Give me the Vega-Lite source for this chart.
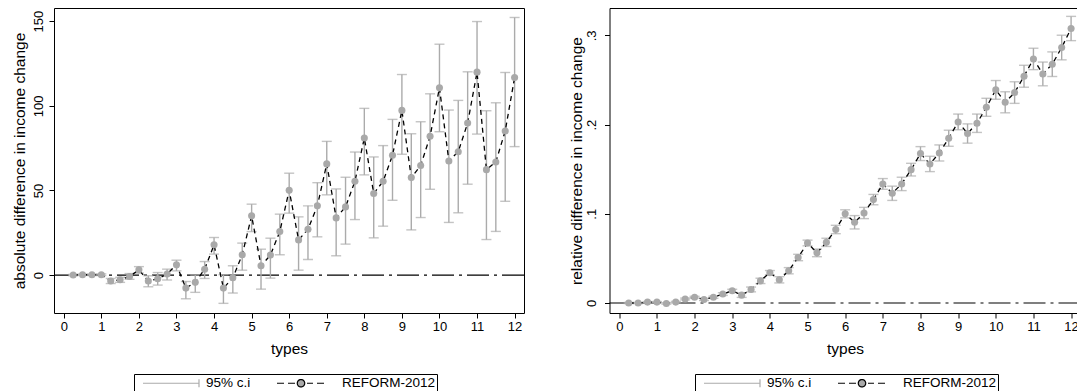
{
  "$schema": "https://vega.github.io/schema/vega-lite/v6.json",
  "padding": {"left": 11, "top": 7, "right": 0, "bottom": 0},
  "background": "white",
  "config": {
    "font": "Liberation Sans",
    "view": {"stroke": "black", "strokeWidth": 1},
    "concat": {"spacing": 42.5},
    "axis": {
      "domain": false, "grid": false, "ticks": true, "tickColor": "black", "tickWidth": 1, "tickSize": 5,
      "labelColor": "black", "titleColor": "black", "labelFontSize": 13, "titleFontSize": 15.5,
      "titleFontWeight": "normal", "labelFont": "Liberation Sans", "titleFont": "Liberation Sans", "labelOverlap": false
    }
  },
  "datasets": {
    "abs": [
      {"x": 0.25, "y": 0, "lo": -0.4, "hi": 0.4},
      {"x": 0.5, "y": 0.2, "lo": -0.2, "hi": 0.6},
      {"x": 0.75, "y": 0.2, "lo": -0.2, "hi": 0.6},
      {"x": 1.0, "y": 0.2, "lo": -0.3, "hi": 0.7},
      {"x": 1.25, "y": -3.5, "lo": -5.0, "hi": -2.0},
      {"x": 1.5, "y": -2.8, "lo": -4.3, "hi": -1.3},
      {"x": 1.75, "y": -0.8, "lo": -2.5, "hi": 0.9},
      {"x": 2.0, "y": 3.1, "lo": 1.2, "hi": 5.0},
      {"x": 2.25, "y": -3.5, "lo": -6.9, "hi": -0.4},
      {"x": 2.5, "y": -2.2, "lo": -5.9, "hi": 1.5},
      {"x": 2.75, "y": 0.6, "lo": -2.9, "hi": 3.5},
      {"x": 3.0, "y": 6.1, "lo": 2.5, "hi": 8.8},
      {"x": 3.25, "y": -7.7, "lo": -14.0, "hi": -3.8},
      {"x": 3.5, "y": -4.3, "lo": -10.2, "hi": 0.0},
      {"x": 3.75, "y": 3.5, "lo": -2.0, "hi": 8.0},
      {"x": 4.0, "y": 17.9, "lo": 12.4, "hi": 22.2},
      {"x": 4.25, "y": -7.7, "lo": -16.7, "hi": 0.2},
      {"x": 4.5, "y": -1.6, "lo": -10.6, "hi": 5.5},
      {"x": 4.75, "y": 12.0, "lo": 2.9, "hi": 18.9},
      {"x": 5.0, "y": 35.0, "lo": 25.7, "hi": 41.9},
      {"x": 5.25, "y": 5.5, "lo": -8.3, "hi": 15.3},
      {"x": 5.5, "y": 11.8, "lo": -1.8, "hi": 21.8},
      {"x": 5.75, "y": 25.7, "lo": 12.0, "hi": 36.0},
      {"x": 6.0, "y": 50.1, "lo": 36.6, "hi": 60.2},
      {"x": 6.25, "y": 20.8, "lo": 2.9, "hi": 34.4},
      {"x": 6.5, "y": 27.1, "lo": 9.2, "hi": 40.9},
      {"x": 6.75, "y": 40.9, "lo": 22.6, "hi": 54.6},
      {"x": 7.0, "y": 65.7, "lo": 47.4, "hi": 79.0},
      {"x": 7.25, "y": 33.8, "lo": 11.4, "hi": 50.9},
      {"x": 7.5, "y": 40.3, "lo": 18.3, "hi": 57.8},
      {"x": 7.75, "y": 55.4, "lo": 32.8, "hi": 72.7},
      {"x": 8.0, "y": 81.0, "lo": 59.2, "hi": 98.5},
      {"x": 8.25, "y": 48.2, "lo": 22.0, "hi": 69.8},
      {"x": 8.5, "y": 55.4, "lo": 28.9, "hi": 76.5},
      {"x": 8.75, "y": 70.8, "lo": 44.2, "hi": 92.0},
      {"x": 9.0, "y": 97.3, "lo": 71.4, "hi": 118.5},
      {"x": 9.25, "y": 57.6, "lo": 26.7, "hi": 83.5},
      {"x": 9.5, "y": 64.7, "lo": 34.0, "hi": 90.6},
      {"x": 9.75, "y": 82.0, "lo": 50.7, "hi": 107.1},
      {"x": 10.0, "y": 110.7, "lo": 84.7, "hi": 136.4},
      {"x": 10.25, "y": 67.4, "lo": 31.1, "hi": 97.5},
      {"x": 10.5, "y": 72.9, "lo": 36.8, "hi": 103.2},
      {"x": 10.75, "y": 89.8, "lo": 53.7, "hi": 120.1},
      {"x": 11.0, "y": 119.9, "lo": 83.3, "hi": 149.8},
      {"x": 11.25, "y": 62.3, "lo": 21.0, "hi": 97.1},
      {"x": 11.5, "y": 66.8, "lo": 25.8, "hi": 101.8},
      {"x": 11.75, "y": 85.1, "lo": 43.6, "hi": 119.7},
      {"x": 12.0, "y": 116.7, "lo": 75.9, "hi": 152.2}
    ],
    "rel": [
      {"x": 0.25, "y": 0, "lo": -0.0006, "hi": 0.0006},
      {"x": 0.5, "y": 0, "lo": -0.0006, "hi": 0.0006},
      {"x": 0.75, "y": 0.001, "lo": 0.0004, "hi": 0.0016},
      {"x": 1.0, "y": 0.001, "lo": 0.0004, "hi": 0.0016},
      {"x": 1.25, "y": -0.0005, "lo": -0.0013, "hi": 0.0003},
      {"x": 1.5, "y": 0.001, "lo": 0.0002, "hi": 0.0018},
      {"x": 1.75, "y": 0.0045, "lo": 0.0035, "hi": 0.0055},
      {"x": 2.0, "y": 0.0065, "lo": 0.0055, "hi": 0.0075},
      {"x": 2.25, "y": 0.004, "lo": 0.0028, "hi": 0.0052},
      {"x": 2.5, "y": 0.0065, "lo": 0.0053, "hi": 0.0077},
      {"x": 2.75, "y": 0.010, "lo": 0.0085, "hi": 0.0115},
      {"x": 3.0, "y": 0.0137, "lo": 0.012, "hi": 0.0154},
      {"x": 3.25, "y": 0.0088, "lo": 0.0063, "hi": 0.0113},
      {"x": 3.5, "y": 0.0152, "lo": 0.0125, "hi": 0.0179},
      {"x": 3.75, "y": 0.0248, "lo": 0.0218, "hi": 0.0278},
      {"x": 4.0, "y": 0.034, "lo": 0.0316, "hi": 0.0364},
      {"x": 4.25, "y": 0.026, "lo": 0.0225, "hi": 0.0295},
      {"x": 4.5, "y": 0.0362, "lo": 0.0327, "hi": 0.0397},
      {"x": 4.75, "y": 0.051, "lo": 0.0474, "hi": 0.0546},
      {"x": 5.0, "y": 0.0673, "lo": 0.0641, "hi": 0.0705},
      {"x": 5.25, "y": 0.0562, "lo": 0.0519, "hi": 0.0605},
      {"x": 5.5, "y": 0.068, "lo": 0.0634, "hi": 0.0726},
      {"x": 5.75, "y": 0.0824, "lo": 0.0777, "hi": 0.0871},
      {"x": 6.0, "y": 0.1, "lo": 0.0955, "hi": 0.1045},
      {"x": 6.25, "y": 0.0905, "lo": 0.083, "hi": 0.098},
      {"x": 6.5, "y": 0.1009, "lo": 0.0946, "hi": 0.1072},
      {"x": 6.75, "y": 0.1159, "lo": 0.1101, "hi": 0.1217},
      {"x": 7.0, "y": 0.1335, "lo": 0.1275, "hi": 0.1395},
      {"x": 7.25, "y": 0.123, "lo": 0.115, "hi": 0.131},
      {"x": 7.5, "y": 0.1335, "lo": 0.126, "hi": 0.141},
      {"x": 7.75, "y": 0.1495, "lo": 0.1424, "hi": 0.1566},
      {"x": 8.0, "y": 0.1675, "lo": 0.1597, "hi": 0.1753},
      {"x": 8.25, "y": 0.1559, "lo": 0.1473, "hi": 0.1645},
      {"x": 8.5, "y": 0.1682, "lo": 0.1592, "hi": 0.1772},
      {"x": 8.75, "y": 0.1847, "lo": 0.1757, "hi": 0.1937},
      {"x": 9.0, "y": 0.203, "lo": 0.1942, "hi": 0.2118},
      {"x": 9.25, "y": 0.19, "lo": 0.1792, "hi": 0.2008},
      {"x": 9.5, "y": 0.2015, "lo": 0.1912, "hi": 0.2118},
      {"x": 9.75, "y": 0.2194, "lo": 0.2093, "hi": 0.2295},
      {"x": 10.0, "y": 0.2389, "lo": 0.2284, "hi": 0.2494},
      {"x": 10.25, "y": 0.225, "lo": 0.2132, "hi": 0.2368},
      {"x": 10.5, "y": 0.2359, "lo": 0.2238, "hi": 0.248},
      {"x": 10.75, "y": 0.2542, "lo": 0.2419, "hi": 0.2665},
      {"x": 11.0, "y": 0.2736, "lo": 0.2616, "hi": 0.2856},
      {"x": 11.25, "y": 0.2568, "lo": 0.2435, "hi": 0.2701},
      {"x": 11.5, "y": 0.2677, "lo": 0.2539, "hi": 0.2815},
      {"x": 11.75, "y": 0.2864, "lo": 0.2726, "hi": 0.3002},
      {"x": 12.0, "y": 0.3077, "lo": 0.2941, "hi": 0.3213}
    ],
    "zero": [{"z": 0}]
  },
  "resolve": {"scale": {"x": "independent", "y": "independent", "stroke": "independent"}, "legend": {"stroke": "independent"}},
  "hconcat": [
    {
      "width": 470,
      "height": 305,
      "layer": [
        {
          "data": {"name": "zero"},
          "mark": {"type": "rule", "color": "black", "strokeWidth": 1.1, "strokeDash": [22, 5, 3, 5]},
          "encoding": {
            "y": {"field": "z", "type": "quantitative", "title": "absolute difference in income change",
              "scale": {"domain": [-22.4, 157.8], "nice": false, "zero": false},
              "axis": {"values": [0, 50, 100, 150], "labelAngle": -90, "labelAlign": "center", "labelBaseline": "bottom", "labelPadding": 4, "titlePadding": 5}}
          }
        },
        {
          "data": {"name": "abs"},
          "mark": {"type": "rule", "strokeWidth": 1.4},
          "encoding": {
            "x": {"field": "x", "type": "quantitative", "title": "types",
              "scale": {"domain": [-0.26, 12.25], "nice": false, "zero": false},
              "axis": {"values": [0,1,2,3,4,5,6,7,8,9,10,11,12], "tickCount": 13, "labelOverlap": false, "labelPadding": 2, "titlePadding": 8}},
            "y": {"field": "lo", "type": "quantitative", "title": "absolute difference in income change",
              "axis": {"values": [0, 50, 100, 150], "labelAngle": -90, "labelAlign": "center", "labelBaseline": "bottom", "labelPadding": 4, "titlePadding": 5}},
            "y2": {"field": "hi"},
            "stroke": {"datum": "95% c.i", "type": "nominal",
              "scale": {"domain": ["95% c.i", "REFORM-2012"], "range": ["#ababab", "black"]},
              "legend": {
                "orient": "none", "legendX": 80, "legendY": 366, "direction": "horizontal", "title": null,
                "strokeColor": "black", "padding": 1, "symbolSize": 196, "symbolStrokeWidth": 1.2,
                "labelFontSize": 13.5, "labelColor": "black", "labelFont": "Liberation Sans", "labelOffset": 55, "columnPadding": 20,
                "encode": {"symbols": {"update": {
                  "shape": {"signal": "datum.value === '95% c.i' ? 'M0,0H8M8,-0.571V0.571' : 'M-0.286,0H0.714M1.286,0H2.286M4,0H4.857M5.429,0H6.429M3.673,0A0.53,0.53,0,1,1,2.613,0A0.53,0.53,0,1,1,3.673,0Z'"},
                  "fill": {"signal": "datum.value === '95% c.i' ? 'transparent' : '#a9a9a9'"},
                  "strokeDash": {"value": [1, 0]},
                  "opacity": {"value": 1}
                }}}
              }}
          }
        },
        {
          "data": {"name": "abs"},
          "mark": {"type": "tick", "orient": "horizontal", "size": 10, "thickness": 1.4, "color": "#ababab"},
          "encoding": {
            "x": {"field": "x", "type": "quantitative", "title": "types",
              "axis": {"values": [0,1,2,3,4,5,6,7,8,9,10,11,12], "tickCount": 13, "labelOverlap": false, "labelPadding": 2, "titlePadding": 8}},
            "y": {"field": "lo", "type": "quantitative", "title": "absolute difference in income change"}
          }
        },
        {
          "data": {"name": "abs"},
          "mark": {"type": "tick", "orient": "horizontal", "size": 10, "thickness": 1.4, "color": "#ababab"},
          "encoding": {
            "x": {"field": "x", "type": "quantitative", "title": "types",
              "axis": {"values": [0,1,2,3,4,5,6,7,8,9,10,11,12], "tickCount": 13, "labelOverlap": false, "labelPadding": 2, "titlePadding": 8}},
            "y": {"field": "hi", "type": "quantitative", "title": "absolute difference in income change"}
          }
        },
        {
          "data": {"name": "abs"},
          "mark": {"type": "line", "strokeWidth": 1.3, "strokeDash": [5, 4]},
          "encoding": {
            "x": {"field": "x", "type": "quantitative", "title": "types",
              "axis": {"values": [0,1,2,3,4,5,6,7,8,9,10,11,12], "tickCount": 13, "labelOverlap": false, "labelPadding": 2, "titlePadding": 8}},
            "y": {"field": "y", "type": "quantitative", "title": "absolute difference in income change"},
            "stroke": {"datum": "REFORM-2012", "type": "nominal"}
          }
        },
        {
          "data": {"name": "abs"},
          "mark": {"type": "point", "filled": true, "size": 50, "color": "#a9a9a9", "opacity": 1},
          "encoding": {
            "x": {"field": "x", "type": "quantitative", "title": "types",
              "axis": {"values": [0,1,2,3,4,5,6,7,8,9,10,11,12], "tickCount": 13, "labelOverlap": false, "labelPadding": 2, "titlePadding": 8}},
            "y": {"field": "y", "type": "quantitative", "title": "absolute difference in income change"}
          }
        }
      ]
    },
    {
      "width": 471,
      "height": 305,
      "layer": [
        {
          "data": {"name": "zero"},
          "mark": {"type": "rule", "color": "black", "strokeWidth": 1.1, "strokeDash": [22, 5, 3, 5]},
          "encoding": {
            "y": {"field": "z", "type": "quantitative", "title": "relative difference in income change",
              "scale": {"domain": [-0.0112, 0.3307], "nice": false, "zero": false},
              "axis": {"values": [0, 0.1, 0.2, 0.3], "labelExpr": "datum.value === 0 ? '0' : replace(format(datum.value, '.1f'), '0.', '.')", "labelAngle": -90, "labelAlign": "center", "labelBaseline": "bottom", "labelPadding": 6, "titlePadding": 1}}
          }
        },
        {
          "data": {"name": "rel"},
          "mark": {"type": "rule", "strokeWidth": 1.4},
          "encoding": {
            "x": {"field": "x", "type": "quantitative", "title": "types",
              "scale": {"domain": [-0.26, 12.25], "nice": false, "zero": false},
              "axis": {"values": [0,1,2,3,4,5,6,7,8,9,10,11,12], "tickCount": 13, "labelOverlap": false, "labelPadding": 2, "titlePadding": 8}},
            "y": {"field": "lo", "type": "quantitative", "title": "relative difference in income change"},
            "y2": {"field": "hi"},
            "stroke": {"datum": "95% c.i", "type": "nominal",
              "scale": {"domain": ["95% c.i", "REFORM-2012"], "range": ["#ababab", "black"]},
              "legend": {
                "orient": "none", "legendX": 85.5, "legendY": 366, "direction": "horizontal", "title": null,
                "strokeColor": "black", "padding": 1, "symbolSize": 196, "symbolStrokeWidth": 1.2,
                "labelFontSize": 13.5, "labelColor": "black", "labelFont": "Liberation Sans", "labelOffset": 55, "columnPadding": 20,
                "encode": {"symbols": {"update": {
                  "shape": {"signal": "datum.value === '95% c.i' ? 'M0,0H8M8,-0.571V0.571' : 'M-0.286,0H0.714M1.286,0H2.286M4,0H4.857M5.429,0H6.429M3.673,0A0.53,0.53,0,1,1,2.613,0A0.53,0.53,0,1,1,3.673,0Z'"},
                  "fill": {"signal": "datum.value === '95% c.i' ? 'transparent' : '#a9a9a9'"},
                  "strokeDash": {"value": [1, 0]},
                  "opacity": {"value": 1}
                }}}
              }}
          }
        },
        {
          "data": {"name": "rel"},
          "mark": {"type": "tick", "orient": "horizontal", "size": 10, "thickness": 1.4, "color": "#ababab"},
          "encoding": {
            "x": {"field": "x", "type": "quantitative", "title": "types",
              "axis": {"values": [0,1,2,3,4,5,6,7,8,9,10,11,12], "tickCount": 13, "labelOverlap": false, "labelPadding": 2, "titlePadding": 8}},
            "y": {"field": "lo", "type": "quantitative", "title": "relative difference in income change"}
          }
        },
        {
          "data": {"name": "rel"},
          "mark": {"type": "tick", "orient": "horizontal", "size": 10, "thickness": 1.4, "color": "#ababab"},
          "encoding": {
            "x": {"field": "x", "type": "quantitative", "title": "types",
              "axis": {"values": [0,1,2,3,4,5,6,7,8,9,10,11,12], "tickCount": 13, "labelOverlap": false, "labelPadding": 2, "titlePadding": 8}},
            "y": {"field": "hi", "type": "quantitative", "title": "relative difference in income change"}
          }
        },
        {
          "data": {"name": "rel"},
          "mark": {"type": "line", "strokeWidth": 1.3, "strokeDash": [5, 4]},
          "encoding": {
            "x": {"field": "x", "type": "quantitative", "title": "types",
              "axis": {"values": [0,1,2,3,4,5,6,7,8,9,10,11,12], "tickCount": 13, "labelOverlap": false, "labelPadding": 2, "titlePadding": 8}},
            "y": {"field": "y", "type": "quantitative", "title": "relative difference in income change"},
            "stroke": {"datum": "REFORM-2012", "type": "nominal"}
          }
        },
        {
          "data": {"name": "rel"},
          "mark": {"type": "point", "filled": true, "size": 50, "color": "#a9a9a9", "opacity": 1},
          "encoding": {
            "x": {"field": "x", "type": "quantitative", "title": "types",
              "axis": {"values": [0,1,2,3,4,5,6,7,8,9,10,11,12], "tickCount": 13, "labelOverlap": false, "labelPadding": 2, "titlePadding": 8}},
            "y": {"field": "y", "type": "quantitative", "title": "relative difference in income change"}
          }
        }
      ]
    }
  ]
}
